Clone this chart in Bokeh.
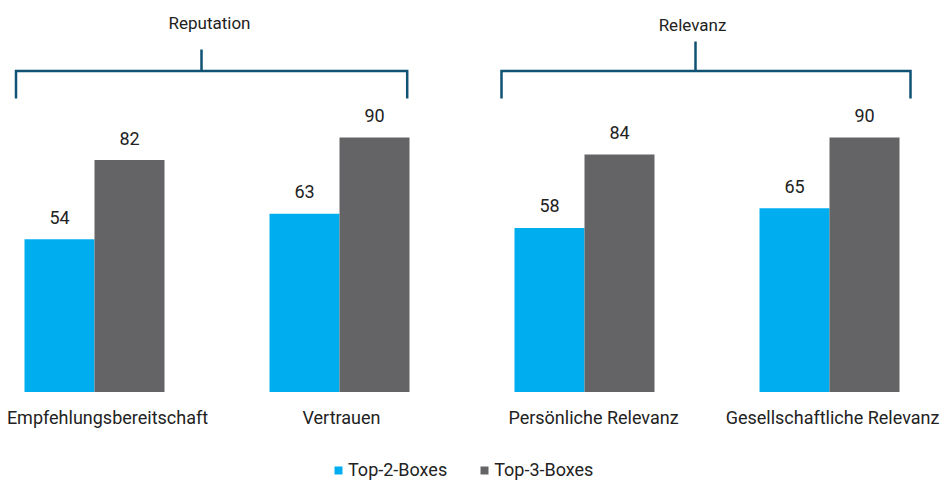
from bokeh.plotting import figure
from bokeh.models import Range1d, ColumnDataSource, Legend, LegendItem
from bokeh.core.properties import value
from bokeh.embed import file_html
from bokeh.resources import INLINE

# ---- data ----
categories = ["Empfehlungsbereitschaft", "Vertrauen", "Persönliche Relevanz", "Gesellschaftliche Relevanz"]
series_names = ["Top-2-Boxes", "Top-3-Boxes"]
top2 = [54, 63, 58, 65]
top3 = [82, 90, 84, 90]
group_titles = ["Reputation", "Relevanz"]
group_members = [[0, 1], [2, 3]]

# ---- layout / style ----
FONT = "Roboto"
FS = "18px"
FS_TITLE = "17px"
CYAN = "#00AEEF"
GRAY = "#646466"
BRACKET = "#0F5273"
TXT = "#222222"
W, H = 944, 481
XPPU = 245.0      # px per group
YPPU = 2.828      # px per value unit
X0_PX = 94.0      # px of first group center
Y0_PX = 89.5      # px of baseline above bottom
BAR_W = 70.0 / XPPU

p = figure(width=W, height=H, output_backend="svg", toolbar_location=None,
           min_border=0, outline_line_color=None,
           x_range=Range1d(-X0_PX / XPPU, -X0_PX / XPPU + W / XPPU),
           y_range=Range1d(-Y0_PX / YPPU, -Y0_PX / YPPU + H / YPPU))
p.axis.visible = False
p.grid.visible = False
p.background_fill_color = None
p.border_fill_color = "white"

idx = list(range(len(categories)))
src2 = ColumnDataSource(dict(x=[i - BAR_W / 2 for i in idx], top=top2, lab=[str(v) for v in top2]))
src3 = ColumnDataSource(dict(x=[i + BAR_W / 2 for i in idx], top=top3, lab=[str(v) for v in top3]))

r2 = p.vbar(x="x", top="top", bottom=0, width=BAR_W, source=src2, fill_color=CYAN, line_color=None)
r3 = p.vbar(x="x", top="top", bottom=0, width=BAR_W, source=src3, fill_color=GRAY, line_color=None)

for src in (src2, src3):
    p.text(x="x", y="top", text="lab", source=src, text_font=value(FONT), text_font_size=FS,
           text_color=TXT, text_align="center", text_baseline="middle", y_offset=-22)

# category labels
label_shift_px = [13, 2, 9, 3]
cat_src = ColumnDataSource(dict(x=[i + s / XPPU for i, s in zip(idx, label_shift_px)],
                                y=[-25.2 / YPPU] * len(idx), t=categories))
p.text(x="x", y="y", text="t", source=cat_src, text_font=value(FONT), text_font_size=FS,
       text_color=TXT, text_align="center", text_baseline="middle")

# brackets
bracket_ext_px = [(-78.5, 67.7), (-83.0, 81.0)]   # left of first / right of last group, px
tick_center_px = [(201.0, 49.0), (695.0, 41.0)]     # x px, top y px (screen)
title_pos_px = [(209.0, 22.0), (692.0, 24.0)]
y_h = (H - 70.5 - Y0_PX) / YPPU
y_b = (H - 98.0 - Y0_PX) / YPPU
xs, ys = [], []
tx, ty, tt = [], [], []
for g, mem in enumerate(group_members):
    xl = mem[0] + bracket_ext_px[g][0] / XPPU
    xr = mem[-1] + bracket_ext_px[g][1] / XPPU
    xs.append([xl, xl, xr, xr])
    ys.append([y_b, y_h, y_h, y_b])
    cx = (tick_center_px[g][0] - X0_PX) / XPPU
    xs.append([cx, cx])
    ys.append([y_h, (H - tick_center_px[g][1] - Y0_PX) / YPPU])
    tx.append((title_pos_px[g][0] - X0_PX) / XPPU)
    ty.append((H - title_pos_px[g][1] - Y0_PX) / YPPU)
    tt.append(group_titles[g])
p.multi_line(xs=xs, ys=ys, line_color=BRACKET, line_width=2.5, line_join="miter")
p.text(x=tx, y=ty, text=tt, text_font=value(FONT), text_font_size=FS_TITLE, text_color=TXT,
       text_align="center", text_baseline="middle")

legend = Legend(items=[LegendItem(label=series_names[0], renderers=[r2]),
                       LegendItem(label=series_names[1], renderers=[r3])],
                orientation="horizontal", location=(333, 1),
                glyph_width=10, glyph_height=10, label_standoff=5, spacing=32,
                label_text_font=FONT, label_text_font_size=FS, label_text_color=TXT,
                padding=0, margin=0, border_line_color=None, background_fill_alpha=0,
                label_height=18)
p.add_layout(legend)

open("out.html", "w").write(file_html(p, INLINE))
